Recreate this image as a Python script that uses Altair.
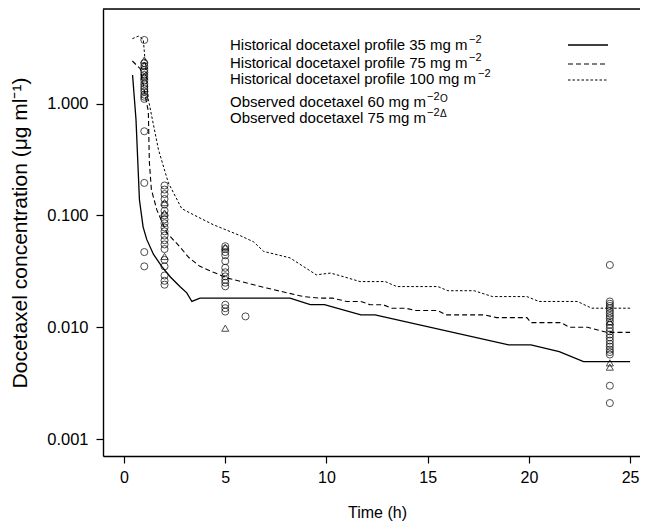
import altair as alt
import pandas as pd

# Historical profiles (time h, concentration ug/ml)
t35 = [0.42, 0.59, 0.76, 0.94, 1.12, 1.45, 1.86, 2.3, 2.77, 3.1, 3.35, 3.75, 8.2, 9.2, 9.9,
       11.7, 12.4, 19.0, 20.1, 21.5, 22.7, 25.0]
c35 = [1.8, 0.72, 0.138, 0.079, 0.061, 0.045, 0.035, 0.028, 0.023, 0.0203, 0.017, 0.0182, 0.0182,
       0.0159, 0.0159, 0.0129, 0.0129, 0.00695, 0.00695, 0.00605, 0.00493, 0.00493]

t75 = [0.41, 0.8, 1.0, 1.2, 1.25, 1.35, 1.62, 2.11, 2.77, 3.2, 3.75, 5.07, 7.05, 8.86, 9.7, 10.3,
       11.0, 11.7, 12.15, 12.8, 13.2, 13.9, 14.4, 15.5, 15.9, 17.8, 18.4, 19.9, 20.1, 21.6, 22.0,
       22.9, 23.85, 25.0]
c75 = [2.4, 2.05, 1.3, 0.85, 0.3, 0.17, 0.112, 0.07, 0.052, 0.042, 0.035, 0.0276, 0.0224, 0.0188,
       0.0182, 0.0182, 0.0170, 0.0170, 0.0159, 0.0159, 0.0148, 0.0148, 0.0141, 0.0141, 0.0129,
       0.0129, 0.0122, 0.0122, 0.0110, 0.0110, 0.0100, 0.0100, 0.0090, 0.0090]

t100 = [0.41, 0.71, 0.95, 1.2, 1.7, 2.19, 2.85, 3.26, 4.41, 5.73, 6.4, 6.9, 8.2, 9.5, 10.2, 10.67,
        11.66, 12.9, 13.47, 15.5, 16.0, 17.3, 18.2, 19.9, 20.5, 22.4, 23.1, 25.0]
c100 = [3.8, 4.0, 3.75, 1.09, 0.387, 0.195, 0.115, 0.105, 0.0825, 0.066, 0.058, 0.0476, 0.0417,
        0.0294, 0.0305, 0.0289, 0.0256, 0.0256, 0.0231, 0.0231, 0.0212, 0.0212, 0.0188, 0.0188,
        0.0170, 0.0170, 0.0148, 0.0148]

# Observed 60 mg/m2 (circles)
obs60_t = [1] * 19 + [2] * 20 + [5] * 14 + [6] + [24] * 23
obs60_c = [3.7, 2.3, 2.15, 2.0, 1.9, 1.8, 1.7, 1.6, 1.5, 1.42, 1.35, 1.28, 1.2, 1.15, 1.1, 0.565,
           0.195, 0.047, 0.035,
           0.185, 0.17, 0.155, 0.14, 0.125, 0.11, 0.10, 0.092, 0.085, 0.078, 0.072, 0.066, 0.06,
           0.055, 0.05, 0.04, 0.035, 0.029, 0.026, 0.024,
           0.053, 0.050, 0.047, 0.044, 0.039, 0.034, 0.031, 0.0285, 0.0265, 0.025, 0.0232, 0.0159,
           0.0148, 0.0138,
           0.0125,
           0.036, 0.017, 0.0162, 0.0155, 0.0148, 0.014, 0.0133, 0.0126, 0.012, 0.0113, 0.0105,
           0.0098, 0.0092, 0.0086, 0.0081, 0.0076, 0.0071, 0.0067, 0.0063, 0.006, 0.0057, 0.003,
           0.0021]

# Observed 75 mg/m2 (triangles)
obs75_t = [1, 1, 1, 2, 2, 2, 5, 5, 24, 24, 24]
obs75_c = [2.45, 2.2, 1.75, 0.13, 0.105, 0.043, 0.052, 0.0098, 0.0112, 0.0048, 0.0044]

x_ticks = [0, 5, 10, 15, 20, 25]
y_ticks = [0.001, 0.01, 0.1, 1]

legend_lines = [
    "Historical docetaxel profile 35 mg m",
    "Historical docetaxel profile 75 mg m",
    "Historical docetaxel profile 100 mg m",
    "Observed docetaxel 60 mg m",
    "Observed docetaxel 75 mg m",
]

FONT = "Liberation Sans"
W, H = 537, 447
xdom = [-1.04, 25.49]
ydom = [0.000706, 7.0]

xs = alt.Scale(domain=xdom, nice=False, zero=False)
ys = alt.Scale(type="log", domain=ydom, nice=False)

xaxis = alt.Axis(values=x_ticks, title="Time (h)", grid=False, tickSize=7, labelPadding=6,
                 labelFontSize=16, titleFontSize=16, labelFont=FONT, titleFont=FONT,
                 domainColor="black", tickColor="black", labelColor="black", titleColor="black",
                 domainWidth=1.4, tickWidth=1.2, titleFontWeight="normal",
                 titleX=274, titleY=56, titleBaseline="middle", titleAlign="center")
yaxis = alt.Axis(values=y_ticks, format=".3f", title="Docetaxel concentration (μg ml⁻¹)",
                 grid=False, tickSize=7, labelPadding=8, labelFontSize=16.5, titleFontSize=21,
                 labelFont=FONT, titleFont=FONT, domainColor="black", tickColor="black",
                 labelColor="black", titleColor="black", domainWidth=1.4, tickWidth=1.2,
                 titleFontWeight="normal", titleX=-83, titleY=H / 2, titleAngle=270,
                 titleBaseline="middle", titleAlign="center")


def line_layer(t, c, dash, width):
    df = pd.DataFrame({"t": t, "c": c})
    kw = dict(color="black", strokeWidth=width)
    if dash:
        kw["strokeDash"] = dash
    return alt.Chart(df).mark_line(**kw).encode(
        x=alt.X("t:Q", scale=xs, axis=xaxis),
        y=alt.Y("c:Q", scale=ys, axis=yaxis),
    )


l35 = line_layer(t35, c35, None, 1.3)
l75 = line_layer(t75, c75, [5, 3], 1.1)
l100 = line_layer(t100, c100, [2.5, 2], 1.0)

p60 = alt.Chart(pd.DataFrame({"t": obs60_t, "c": obs60_c})).mark_point(
    shape="circle", filled=False, color="black", size=50, strokeWidth=1
).encode(x=alt.X("t:Q", scale=xs), y=alt.Y("c:Q", scale=ys))
p75 = alt.Chart(pd.DataFrame({"t": obs75_t, "c": obs75_c})).mark_point(
    shape="triangle-up", filled=False, color="black", size=50, strokeWidth=1
).encode(x=alt.X("t:Q", scale=xs), y=alt.Y("c:Q", scale=ys))

top_border = alt.Chart(pd.DataFrame({"a": [0]})).mark_rule(color="black", strokeWidth=1.4).encode(
    x=alt.value(0), x2=alt.value(W), y=alt.value(0)
)

# legend
leg_y = [36, 54, 70, 92.5, 108.5]
leg_df = pd.DataFrame({"label": legend_lines, "yy": leg_y})
leg_text = alt.Chart(leg_df).mark_text(
    align="left", baseline="middle", font=FONT, fontSize=15, color="black"
).encode(x=alt.value(127), y=alt.Y("yy:Q", scale=None), text="label:N")

sup_df = pd.DataFrame({
    "s": ["−2", "−2", "−2", "−2", "−2"],
    "xx": [366, 366, 375, 324, 324],
    "yy": [31, 49, 65, 87.5, 103.5],
})
sup_text = alt.Chart(sup_df).mark_text(
    align="left", baseline="middle", font=FONT, fontSize=11, color="black"
).encode(x=alt.X("xx:Q", scale=None), y=alt.Y("yy:Q", scale=None), text="s:N")

sym_df = pd.DataFrame({"s": ["O", "Δ"], "xx": [337, 337], "yy": [90, 105]})
sym_text = alt.Chart(sym_df).mark_text(
    align="left", baseline="middle", font=FONT, fontSize=10, color="black"
).encode(x=alt.X("xx:Q", scale=None), y=alt.Y("yy:Q", scale=None), text="s:N")

def leg_rule(yv, dash, width):
    kw = dict(color="black", strokeWidth=width)
    if dash:
        kw["strokeDash"] = dash
    return alt.Chart(pd.DataFrame({"a": [0]})).mark_rule(**kw).encode(
        x=alt.value(465), x2=alt.value(505), y=alt.value(yv)
    )

r1 = leg_rule(36, None, 1.3)
r2 = leg_rule(55, [5, 3], 1.1)
r3 = leg_rule(71, [2.5, 2], 1.0)

chart = alt.layer(
    l35, l75, l100, p60, p75, top_border, leg_text, sup_text, sym_text, r1, r2, r3
).properties(
    width=W, height=H,
    padding={"left": 95, "top": 1, "right": 0, "bottom": 66},
    autosize=alt.AutoSizeParams(type="none"),
).configure_view(stroke=None).configure(background="white")

chart.save("out.html", embed_options={"renderer": "svg", "actions": False})
